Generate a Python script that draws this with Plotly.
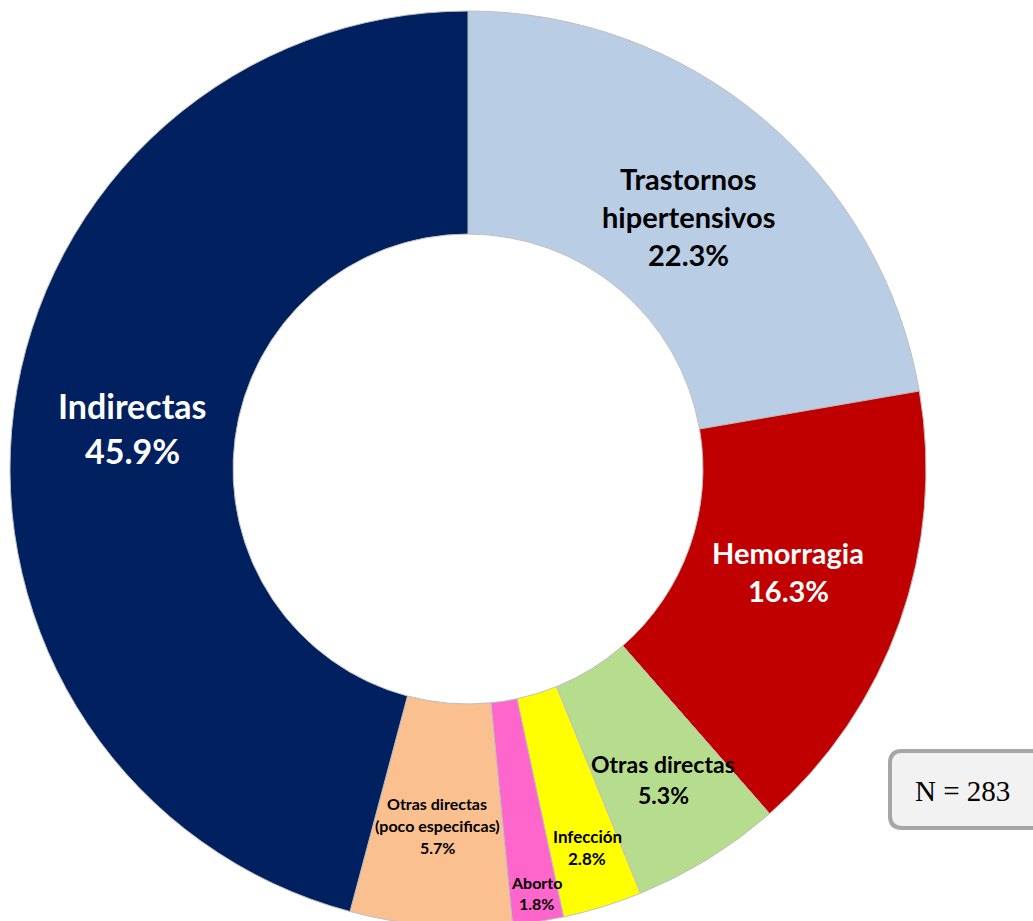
import plotly.graph_objects as go

# ---- data ----
categories = [
    "Trastornos hipertensivos",
    "Hemorragia",
    "Otras directas",
    "Infección",
    "Aborto",
    "Otras directas (poco especificas)",
    "Indirectas",
]
label_lines = [
    ["Trastornos", "hipertensivos"],
    ["Hemorragia"],
    ["Otras directas"],
    ["Infección"],
    ["Aborto"],
    ["Otras directas", "(poco especificas)"],
    ["Indirectas"],
]
percentages = [22.3, 16.3, 5.3, 2.8, 1.8, 5.7, 45.9]
n_total = 283

# ---- styling ----
colors = ["#B9CDE5", "#C00000", "#B5DD8D", "#FFFF00", "#FF66CC", "#FAC090", "#002060"]
text_colors = ["black", "white", "black", "black", "black", "black", "white"]
font_sizes = [29, 29, 23, 17, 16, 16, 34]
# label centres in pixels (x, y of first line) and line spacing
label_pos = [(688, 178), (788, 552), (663, 764), (587, 836), (536, 882), (437, 803), (132, 406)]
line_gap = [38, 38, 31, 22, 21, 22, 45]

W, H = 1033, 930
cx, cy, r = 468, 469, 458

fig = go.Figure()
fig.add_trace(go.Pie(
    labels=categories,
    values=percentages,
    sort=False,
    direction="clockwise",
    rotation=0,
    hole=0.513,
    marker=dict(colors=colors, line=dict(color="#BFBFBF", width=1)),
    textinfo="none",
    hoverinfo="label+percent",
    showlegend=False,
    domain=dict(x=[(cx - r) / W, (cx + r) / W], y=[(H - cy - r) / H, (H - cy + r) / H]),
))

def px(x, y):
    return x / W, 1 - y / H

for lines, pct, tc, fs, (x0, y0), gap in zip(label_lines, percentages, text_colors,
                                              font_sizes, label_pos, line_gap):
    all_lines = lines + [f"{pct:.1f}%"]
    for i, t in enumerate(all_lines):
        xx, yy = px(x0, y0 + i * gap)
        fig.add_annotation(
            x=xx, y=yy, xref="paper", yref="paper", text=f"<b>{t}</b>",
            showarrow=False, xanchor="center", yanchor="middle",
            font=dict(family="Lato, Carlito, sans-serif", size=fs, color=tc),
        )

# N box (rounded)
bx0, by0, bx1, by1, rr = 890, 751, 1045, 828, 12
def P(x, y):
    return f"{x / W:.5f},{1 - y / H:.5f}"
path = (f"M {P(bx0 + rr, by0)} L {P(bx1 - rr, by0)} Q {P(bx1, by0)} {P(bx1, by0 + rr)} "
        f"L {P(bx1, by1 - rr)} Q {P(bx1, by1)} {P(bx1 - rr, by1)} "
        f"L {P(bx0 + rr, by1)} Q {P(bx0, by1)} {P(bx0, by1 - rr)} "
        f"L {P(bx0, by0 + rr)} Q {P(bx0, by0)} {P(bx0 + rr, by0)} Z")
fig.add_shape(type="path", path=path, xref="paper", yref="paper",
              fillcolor="#F2F2F2", line=dict(color="#A6A6A6", width=4))
nx, ny = px(962, 791)
fig.add_annotation(x=nx, y=ny, xref="paper", yref="paper", text=f"N = {n_total}",
                   showarrow=False, xanchor="center", yanchor="middle",
                   font=dict(family="Liberation Serif, Times New Roman, serif", size=29, color="black"))

fig.update_layout(
    width=W, height=H,
    margin=dict(l=0, r=0, t=0, b=0),
    paper_bgcolor="white", plot_bgcolor="white",
)
fig.write_html(
    "out.html",
    config={"displayModeBar": False},
    post_script="document.body.style.margin='0';document.body.style.overflow='hidden';"
                "document.documentElement.style.overflow='hidden';",
)
